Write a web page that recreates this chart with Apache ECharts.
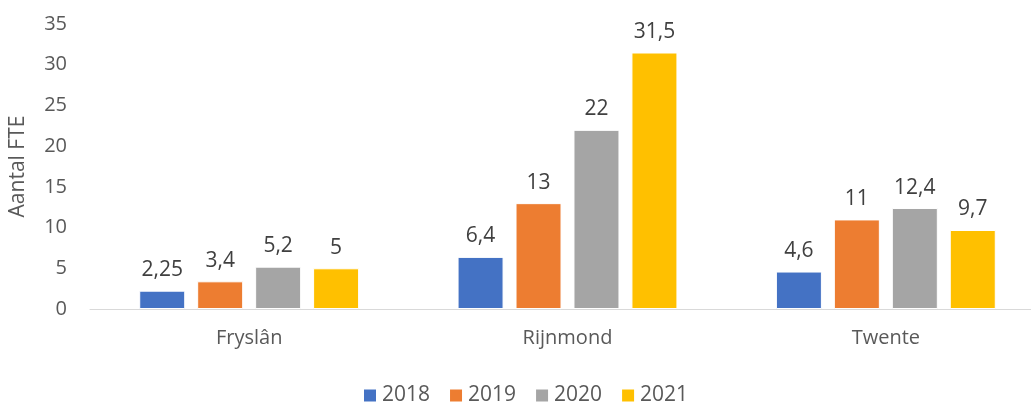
<!DOCTYPE html>
<html>
<head>
<meta charset="utf-8">
<script src="https://cdn.jsdelivr.net/npm/echarts@6/dist/echarts.min.js"></script>
<style>
	html,body{margin:0;padding:0;background:#fff;}
	#chart{width:1031px;height:403px;}
</style>
</head>
<body>
<div id="chart"></div>
<script>
var regios=["Fryslân","Rijnmond","Twente"];
var jaren=["2018","2019","2020","2021"];
var fte2018=[2.25,6.4,4.6];
var fte2019=[3.4,13,11];
var fte2020=[5.2,22,12.4];
var fte2021=[5,31.5,9.7];
var kleuren=["#4472C4","#ED7D31","#A5A5A5","#FFC000"];

var tekst="#595959";
var lettertype="'Open Sans', sans-serif";
var reeksen=[fte2018,fte2019,fte2020,fte2021];

function $each(arr,fn){
	for(var i=0;i<arr.length;i++){fn(i,arr[i]);}
}

var series=[];
$each(reeksen,function(i,data){
	series.push({
		name:jaren[i],
		type:'bar',
		data:data,
		barWidth:46,
		barGap:'26%',
		itemStyle:{color:kleuren[i],borderColor:'#fff',borderWidth:1},
		label:{
			show:true,
			position:'top',
			distance:10,
			color:'#404040',
			fontSize:21,
			fontFamily:lettertype,
			formatter:function(p){return String(p.value).replace('.',',');}
		}
	});
});

var chart=echarts.init(document.getElementById('chart'));
chart.setOption({
	animation:false,
	textStyle:{fontFamily:lettertype},
	grid:{left:90,top:24,bottom:94,width:955,outerBoundsMode:'none',containLabel:false},
	legend:{
		data:jaren,
		top:380,
		left:357,
		icon:'rect',
		itemWidth:14,
		itemHeight:14,
		itemGap:18,
		textStyle:{color:tekst,fontSize:21,fontFamily:lettertype}
	},
	xAxis:{
		type:'category',
		data:regios,
		axisLine:{lineStyle:{color:'#d9d9d9',width:1}},
		axisTick:{show:false},
		axisLabel:{color:tekst,fontSize:20,margin:19,fontFamily:lettertype}
	},
	yAxis:{
		type:'value',
		min:0,
		max:35,
		interval:5,
		name:'Aantal FTE',
		nameLocation:'middle',
		nameGap:61,
		nameTextStyle:{color:tekst,fontSize:21,fontFamily:lettertype},
		axisLine:{show:false},
		axisTick:{show:false},
		splitLine:{show:false},
		axisLabel:{color:tekst,fontSize:20,margin:23,fontFamily:lettertype}
	},
	series:series
});
</script>
</body>
</html>
